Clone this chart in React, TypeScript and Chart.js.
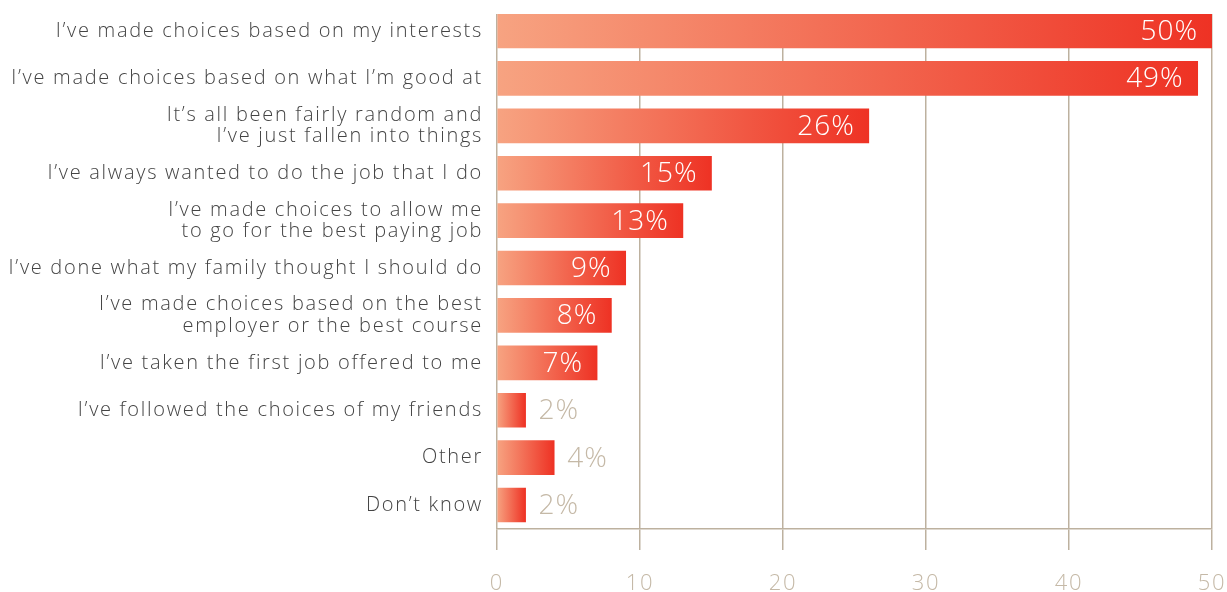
import React, { useEffect, useRef } from "react";
import { Chart, registerables } from "chart.js";

Chart.register(...registerables);

const categories: (string | string[])[] = [
  "I’ve made choices based on my interests",
  "I’ve made choices based on what I’m good at",
  ["It’s all been fairly random and", "I’ve just fallen into things"],
  "I’ve always wanted to do the job that I do",
  ["I’ve made choices to allow me", "to go for the best paying job"],
  "I’ve done what my family thought I should do",
  ["I’ve made choices based on the best", "employer or the best course"],
  "I’ve taken the first job offered to me",
  "I’ve followed the choices of my friends",
  "Other",
  "Don’t know",
];
const values: number[] = [50, 49, 26, 15, 13, 9, 8, 7, 2, 4, 2];
const xTicks: number[] = [0, 10, 20, 30, 40, 50];

const FONT = "'Open Sans', Lato, sans-serif";
const TAN = "#c5b9a7";
const GRID = "#bdb19f";
const SPACING = "1.7px";

const spacingPlugin = {
  id: "spacing",
  beforeUpdate(chart: any) {
    chart.ctx.letterSpacing = SPACING;
  },
  beforeLayout(chart: any) {
    chart.ctx.letterSpacing = SPACING;
  },
  beforeDraw(chart: any) {
    const ctx = chart.ctx;
    ctx.letterSpacing = SPACING;
    const ca = chart.chartArea;
    ctx.save();
    ctx.beginPath();
    ctx.rect(0, ca.top, chart.width, chart.height - ca.top);
    ctx.clip();
  },
  afterDraw(chart: any) {
    chart.ctx.restore();
  },
};

const valueLabels = {
  id: "valueLabels",
  afterDatasetsDraw(chart: any) {
    const ctx = chart.ctx;
    const meta = chart.getDatasetMeta(0);
    ctx.save();
    ctx.font = `300 28px ${FONT}`;
    ctx.letterSpacing = "1px";
    ctx.textBaseline = "middle";
    meta.data.forEach((bar: any, i: number) => {
      const v = values[i];
      const txt = `${v}%`;
      if (v >= 7) {
        ctx.fillStyle = "#ffffff";
        ctx.textAlign = "right";
        ctx.fillText(txt, bar.x - 14, bar.y + 1);
      } else {
        ctx.fillStyle = TAN;
        ctx.textAlign = "left";
        ctx.fillText(txt, bar.x + 13, bar.y + 1);
      }
    });
    ctx.restore();
  },
};

export default function App() {
  const ref = useRef<HTMLCanvasElement | null>(null);
  useEffect(() => {
    if (!ref.current) return;
    const chart = new Chart(ref.current, {
      type: "bar",
      data: {
        datasets: [
          {
            data: values.map((v, i) => ({ x: v, y: i })),
            barThickness: 34,
            borderWidth: 0,
            backgroundColor: (c: any) => {
              const ch = c.chart;
              const xs = ch.scales?.x;
              if (!xs || c.dataIndex === undefined) return "#f07050";
              const x0 = xs.getPixelForValue(0);
              const x1 = xs.getPixelForValue(values[c.dataIndex]);
              if (!isFinite(x0) || !isFinite(x1) || x1 <= x0) return "#f07050";
              const g = ch.ctx.createLinearGradient(x0, 0, x1, 0);
              g.addColorStop(0, "#f7a381");
              g.addColorStop(1, "#ee3224");
              return g;
            },
          },
        ],
      },
      options: {
        indexAxis: "y",
        animation: false,
        responsive: false,
        maintainAspectRatio: false,
        layout: { padding: { top: 14, right: 15, left: 0, bottom: 0 } },
        plugins: { legend: { display: false }, tooltip: { enabled: false } },
        scales: {
          x: {
            type: "linear",
            min: 0,
            max: 50,
            offset: false,
            afterBuildTicks: (s: any) => {
              s.ticks = xTicks.map((v) => ({ value: v }));
            },
            afterFit: (s: any) => {
              s.height = 63;
              s.paddingLeft = 0;
              s.paddingRight = 0;
            },
            grid: {
              color: GRID,
              lineWidth: 1.5,
              drawTicks: true,
              tickLength: 21,
              tickColor: GRID,
              tickWidth: 1.5,
            },
            border: { display: true, color: GRID, width: 1.5 },
            ticks: {
              color: TAN,
              padding: 21,
              font: { family: FONT, size: 22, weight: "300" },
            },
          },
          y: {
            type: "linear",
            reverse: true,
            offset: false,
            min: -0.359,
            max: 10.506,
            afterBuildTicks: (s: any) => {
              s.ticks = categories.map((_, i) => ({ value: i }));
            },
            afterFit: (s: any) => {
              s.width = 497;
              s.paddingTop = 0;
              s.paddingBottom = 0;
            },
            grid: { display: false, drawTicks: false },
            border: { display: false },
            ticks: {
              autoSkip: false,
              padding: 14,
              color: "#444444",
              font: { family: FONT, size: 20, weight: "300", lineHeight: 1.08 },
              callback: (v: any) => categories[Math.round(Number(v))] ?? "",
            },
          },
        },
      },
      plugins: [spacingPlugin, valueLabels],
    } as any);
    return () => chart.destroy();
  }, []);
  return (
    <div style={{ position: "fixed", left: 0, top: 0, width: 1227, height: 592, background: "#fff" }}>
      <canvas ref={ref} width={1227} height={592} style={{ display: "block" }} />
    </div>
  );
}
